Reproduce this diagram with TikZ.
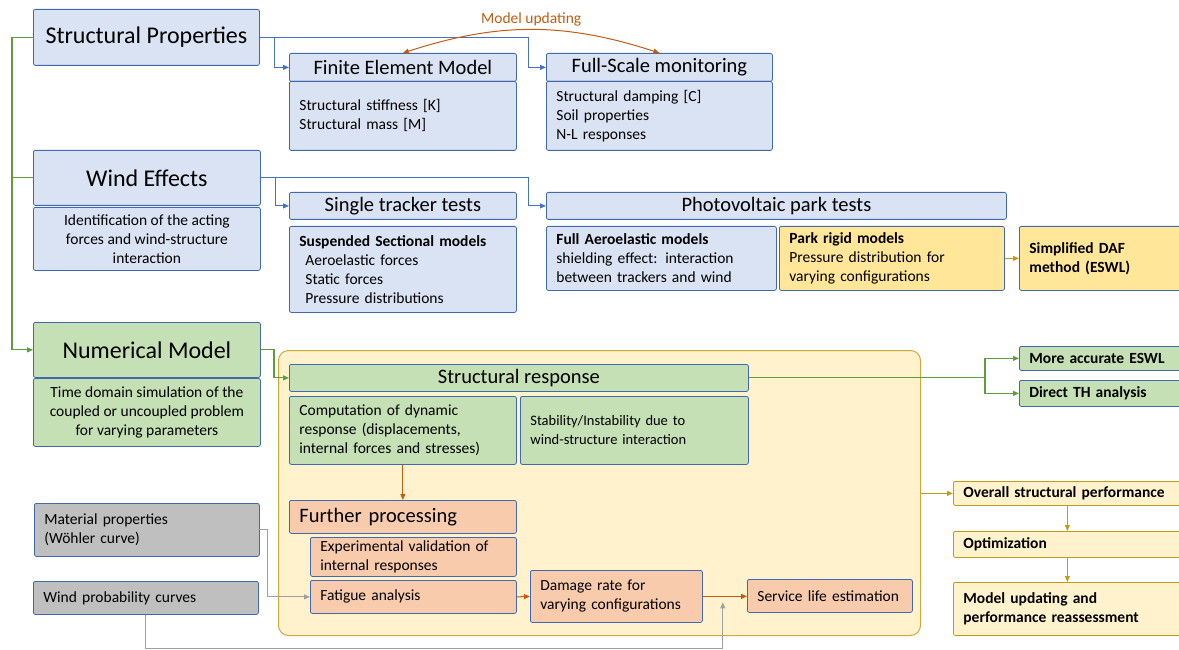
\documentclass[tikz,border=0pt]{standalone}
\usepackage{fontspec}
\setmainfont{Carlito}
\usetikzlibrary{arrows.meta}

\definecolor{bluefill}{HTML}{DAE3F3}
\definecolor{bluebord}{HTML}{4169AE}
\definecolor{bluelink}{HTML}{4472C4}
\definecolor{greenfill}{HTML}{C5E0B4}
\definecolor{greenlink}{HTML}{5F9E3A}
\definecolor{yellowfill}{HTML}{FFE699}
\definecolor{lightyellow}{HTML}{FFF2CC}
\definecolor{goldlink}{HTML}{C49A16}
\definecolor{orangefill}{HTML}{F8CBAD}
\definecolor{orangelink}{HTML}{C55A11}
\definecolor{grayfill}{HTML}{BFBFBF}
\definecolor{graylink}{HTML}{A0A0A0}

\tikzset{
  box/.style={draw=bluebord, line width=0.8pt, rounded corners=2pt, anchor=north west,
    inner xsep=10pt, inner ysep=0pt, font=\fontsize{15.5}{19}\selectfont},
  bigtitle/.style={box, font=\fontsize{24}{28}\selectfont},
  title/.style={box, font=\fontsize{20.5}{24}\selectfont},
  bold/.style={font=\fontsize{15.5}{19}\selectfont\bfseries},
  blu/.style={fill=bluefill},
  grn/.style={fill=greenfill},
  ylw/.style={fill=yellowfill},
  lyw/.style={fill=lightyellow, draw=goldlink},
  org/.style={fill=orangefill},
  gry/.style={fill=grayfill},
  cont/.style={draw=goldlink!85, fill=lightyellow, line width=1pt, rounded corners=10pt,
    anchor=north west, inner sep=0pt},
  blink/.style={draw=bluelink, line width=0.9pt},
  glink/.style={draw=greenlink, line width=1.1pt},
  olink/.style={draw=orangelink, line width=1pt},
  ylink/.style={draw=goldlink, line width=1pt},
  grlink/.style={draw=graylink, line width=1pt}
}

\begin{document}
\begin{tikzpicture}[x=1pt,y=-1pt,>={Triangle[length=6pt,width=5pt]}]
\clip (0,0) rectangle (1179,650);

% Structural properties
\node[bigtitle,blu,minimum width=226pt,minimum height=56pt] (sp) at (33,9) {Structural Properties};
\node[title,blu,minimum width=227pt,minimum height=28pt] (femh) at (289,53) {Finite Element Model};
\node[box,blu,minimum width=227pt,minimum height=69pt,text width=207pt,align=left] (femb) at (289,81) {Structural stiffness [K]\\Structural mass [M]};
\node[title,blu,minimum width=226pt,minimum height=28pt] (fsmh) at (546,53) {Full-Scale monitoring};
\node[box,blu,minimum width=226pt,minimum height=69pt,text width=206pt,align=left] (fsmb) at (546,81) {Structural damping [C]\\Soil properties\\N-L responses};

% Wind effects
\node[bigtitle,blu,minimum width=227pt,minimum height=55pt] (weh) at (33,150) {Wind Effects};
\node[box,blu,minimum width=227pt,minimum height=63pt,align=center] (web) at (33,207) {Identification of the acting\\forces and wind-structure\\interaction};
\node[title,blu,minimum width=227pt,minimum height=27pt] (stth) at (289,192) {Single tracker tests};
\node[box,blu,minimum width=227pt,minimum height=86pt,text width=207pt,align=left] (sttb) at (289,226) {\textbf{Suspended Sectional models}\\\hspace*{6pt}Aeroelastic forces\\\hspace*{6pt}Static forces\\\hspace*{6pt}Pressure distributions};
\node[title,blu,minimum width=460pt,minimum height=27pt] (pvh) at (546,192) {Photovoltaic park tests};
\node[box,blu,minimum width=230pt,minimum height=64pt,text width=210pt,align=left] (fam) at (546,226) {\textbf{Full Aeroelastic models}\\shielding effect: interaction\\between trackers and wind};
\node[box,ylw,minimum width=225pt,minimum height=64pt,text width=205pt,align=left] (prm) at (779,226) {\textbf{Park rigid models}\\Pressure distribution for\\varying configurations};
\node[box,ylw,bold,minimum width=170pt,minimum height=64pt,text width=150pt,align=left] (daf) at (1019,226) {Simplified DAF\\method (ESWL)};

% Numerical model
\node[bigtitle,grn,minimum width=227pt,minimum height=55pt] (nmh) at (33,322) {Numerical Model};
\node[box,grn,minimum width=227pt,minimum height=68pt,align=center] (nmb) at (33,378) {Time domain simulation of the\\coupled or uncoupled problem\\for varying parameters};

% Structural response
\node[cont,minimum width=642pt,minimum height=285pt] (cont) at (278,350) {};
\node[title,grn,minimum width=459pt,minimum height=27pt] (srh) at (289,364) {Structural response};
\node[box,grn,minimum width=227pt,minimum height=68pt,text width=207pt,align=left] (comp) at (289,396) {Computation of dynamic\\response (displacements,\\internal forces and stresses)};
\node[box,grn,minimum width=228pt,minimum height=68pt,text width=208pt,align=left,font=\fontsize{14.5}{19}\selectfont] (stab) at (520,396) {Stability/Instability due to\\wind-structure interaction};
\node[box,grn,bold,minimum width=170pt,minimum height=24pt,text width=150pt,align=left] (mae) at (1019,346) {More accurate ESWL};
\node[box,grn,bold,minimum width=170pt,minimum height=26pt,text width=150pt,align=left] (dth) at (1019,380) {Direct TH analysis};

% Further processing
\node[title,org,minimum width=227pt,minimum height=33pt,text width=207pt,align=left] (fph) at (289,500) {Further processing};
\node[box,org,minimum width=206pt,minimum height=39pt,text width=186pt,align=left] (ev) at (310,537) {Experimental validation of\\internal responses};
\node[box,org,minimum width=206pt,minimum height=33pt,text width=186pt,align=left] (fa) at (310,580) {Fatigue analysis};
\node[box,org,minimum width=172pt,minimum height=52pt,text width=152pt,align=left] (dr) at (530,570) {Damage rate for\\varying configurations};
\node[box,org,minimum width=165pt,minimum height=33pt,text width=145pt,align=left] (sl) at (747,579) {Service life estimation};

% Inputs
\node[box,gry,minimum width=225pt,minimum height=53pt,text width=205pt,align=left] (mat) at (34,503) {Material properties\\(Wöhler curve)};
\node[box,gry,minimum width=225pt,minimum height=33pt,text width=205pt,align=left] (wpc) at (33,581) {Wind probability curves};

% Performance
\node[box,lyw,bold,minimum width=232pt,minimum height=24pt,text width=212pt,align=left] (osp) at (953,481) {Overall structural performance};
\node[box,lyw,bold,minimum width=232pt,minimum height=26pt,text width=212pt,align=left] (opt) at (953,531) {Optimization};
\node[box,lyw,bold,minimum width=232pt,minimum height=53pt,text width=212pt,align=left] (mup) at (953,582) {Model updating and\\performance reassessment};

% Collegamenti
\draw[glink,->] (sp.west) -- ++(-21,0) |- (nmh.west);
\draw[glink] (weh.west) -- ++(-21,0);
\draw[blink,->] (sp.east) -| ([xshift=-18pt]fsmh.west) -- (fsmh.west);
\draw[blink,->] ([xshift=15pt]sp.east) |- (femh.west);
\draw[blink,->] (weh.east) -| ([xshift=-18pt]pvh.west) -- (pvh.west);
\draw[blink,->] ([xshift=15pt]weh.east) |- (stth.west);
\draw[olink,<->] (femh.north) to[bend left=18] node[above,text=orangelink,font=\fontsize{15.5}{19}\selectfont] {Model updating} (fsmh.north);
\draw[ylink,->] (prm.east) -- (daf.west);

\draw[glink,->] (nmh.east) -| ([xshift=-15pt]srh.west) -- (srh.west);
\coordinate (split) at ([xshift=-34pt]mae.west |- srh.east);
\draw[glink] (srh.east) -- (split);
\draw[glink,->] (split) |- (mae.west);
\draw[glink,->] (split) |- (dth.west);

\draw[olink,->] (comp.south) -- (fph.north);
\draw[olink,->] (fa.east) -- (dr.west);
\draw[olink,->] (dr.east) -- (dr.east -| sl.west);
\draw[grlink,->] ([xshift=-2pt]mat.east) -| ([xshift=-43pt]fa.west) -- (fa.west);
\draw[grlink,->] (wpc.south) -- ++(0,34) -| ([xshift=20pt,yshift=-6pt]dr.east);

\draw[ylink,->] (osp.west -| cont.east) -- (osp.west);
\draw[ylink,->] ([xshift=-2pt]osp.south) -- ([xshift=-2pt]opt.north);
\draw[ylink,->] ([xshift=-2pt]opt.south) -- ([xshift=-2pt]mup.north);

\end{tikzpicture}
\end{document}
